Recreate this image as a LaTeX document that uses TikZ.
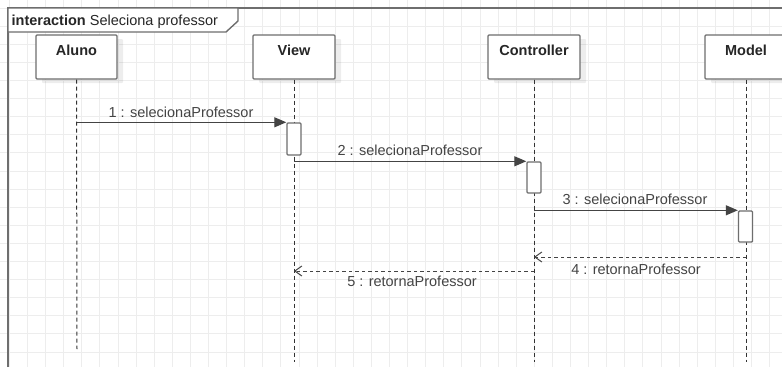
\documentclass[tikz,border=0pt]{standalone}
\usepackage{fontspec}
\setmainfont{Liberation Sans}
\usetikzlibrary{arrows.meta,shadows}
\definecolor{gridc}{HTML}{EDEDED}
\definecolor{edge}{HTML}{6E6E6E}
\definecolor{ink}{HTML}{444444}
\definecolor{lifec}{HTML}{333333}
\begin{document}
\begin{tikzpicture}[x=1pt,y=-1pt,
  gridline/.style={draw=gridc,line width=0.8pt},
  frameline/.style={draw=edge,line width=1.4pt},
  head/.style={draw=edge,line width=1.4pt,fill=white,rounded corners=1pt,
    inner sep=5pt,text height=15pt,text depth=19pt,
    font=\bfseries\fontsize{14.5}{16}\selectfont,text=black!85,
    drop shadow={shadow xshift=6pt,shadow yshift=-4pt,fill=black,opacity=0.07}},
  act/.style={draw=edge,line width=1.4pt,fill=white,rounded corners=1pt,
    minimum width=14pt,inner sep=0pt},
  lifeline/.style={draw=lifec,line width=1pt,dash pattern=on 4pt off 3pt},
  msg/.style={draw=ink,line width=1.2pt,-{Triangle[length=12pt,width=10pt]}},
  ret/.style={draw=ink,line width=1pt,dash pattern=on 3.5pt off 3pt,
    -{Straight Barb[length=7pt,width=10pt,line width=1pt]}},
  lbl/.style={anchor=base,inner sep=0pt,text=ink,font=\fontsize{14.5}{16}\selectfont}]
\useasboundingbox (0,0) rectangle (782,367);
\clip (0,0) rectangle (782,367);
\fill[white] (0,0) rectangle (782,367);
% grid
\foreach \i in {0,...,43} \draw[gridline] ({9.3+18.1*\i},0) -- ({9.3+18.1*\i},367);
\foreach \j in {0,...,20} \draw[gridline] (0,{8+18.1*\j}) -- (782,{8+18.1*\j});
% frame
\draw[frameline] (8,367) -- (8,8) -- (782,8);
\draw[frameline,fill=white] (8,8) -- (238,8) -- (238,21) -- (226,32) -- (8,32) -- cycle;
\node[anchor=base west,inner sep=0pt,font=\fontsize{14.5}{16}\selectfont,text=black!85] (title) at (11.5,25) {\textbf{interaction} Seleciona professor};
% lifeline heads
\node[head,minimum width=81pt] (aluno) at (76.5,57) {Aluno};
\node[head,minimum width=82pt] (view) at (294,57) {View};
\node[head,minimum width=92pt] (ctrl) at (534,57) {Controller};
\node[head,minimum width=82pt] (model) at (746,57) {Model};
% lifeline ends
\coordinate (alunoEnd) at (77,349);
\coordinate (viewEnd) at (294,362);
\coordinate (ctrlEnd) at (534,362);
\coordinate (modelEnd) at (746,362);
\draw[lifeline] (aluno.south) -- (alunoEnd);
\draw[lifeline] (view.south) -- (viewEnd);
\draw[lifeline] (ctrl.south) -- (ctrlEnd);
\draw[lifeline] (model.south) -- (modelEnd);
% activations
\node[act,minimum height=32pt] (actV) at (294,139) {};
\node[act,minimum height=31pt] (actC) at (534,177.5) {};
\node[act,minimum height=31pt] (actM) at (745.5,226.5) {};
% messages
\draw[msg] (actV.north west -| aluno.south) -- (actV.north west);
\draw[msg] (actC.north west -| view.south) -- (actC.north west);
\draw[msg] (actM.north west -| ctrl.south) -- (actM.north west);
\coordinate (r4) at (746,257);
\coordinate (r5) at (534,271);
\draw[ret] (r4) -- (r4 -| ctrl.south);
\draw[ret] (r5) -- (r5 -| view.south);
% labels
\node[lbl] (l1) at (181,117) {1 : selecionaProfessor};
\node[lbl] (l2) at (410,155.5) {2 : selecionaProfessor};
\node[lbl] (l3) at (635,204) {3 : selecionaProfessor};
\node[lbl] (l4) at (636,274) {4 : retornaProfessor};
\node[lbl] (l5) at (412,286.5) {5 : retornaProfessor};
\end{tikzpicture}
\end{document}
